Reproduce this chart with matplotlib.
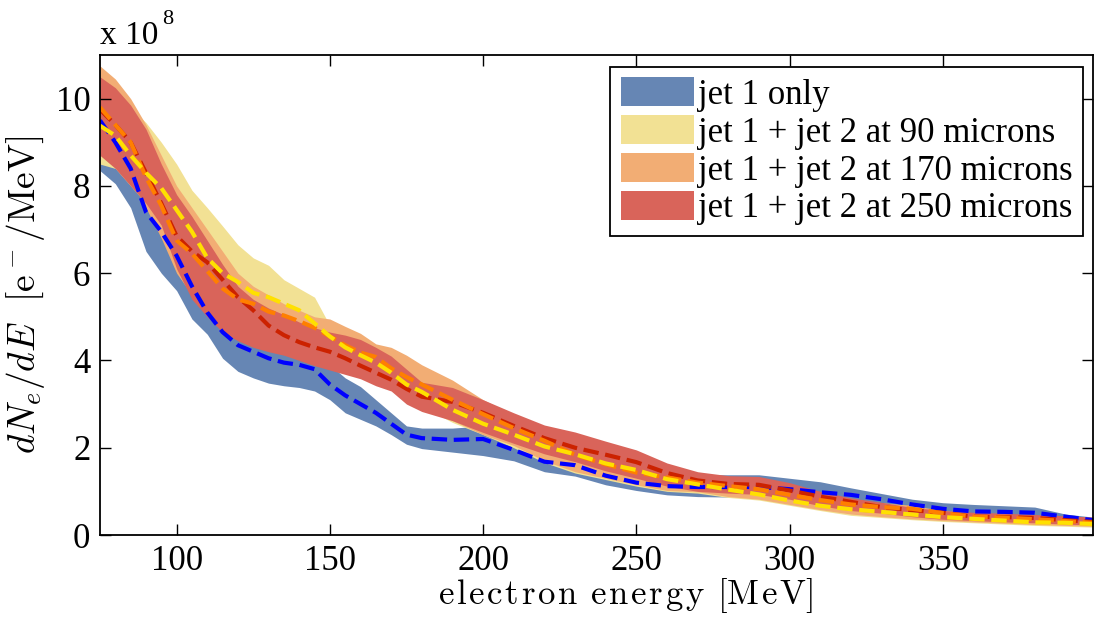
import matplotlib
matplotlib.use("Agg")
import matplotlib.pyplot as plt
from matplotlib.patches import Patch

plt.rcParams['font.family'] = ['Liberation Serif', 'DejaVu Serif']
plt.rcParams['mathtext.fontset'] = 'cm'

# energy grid [MeV]
energy = [75, 80, 85, 90, 95, 100, 105, 110, 115, 120, 125, 130, 135, 140, 145,
          150, 155, 160, 165, 170, 175, 180, 190, 200, 210, 220, 230, 240, 250,
          260, 270, 280, 290, 300, 310, 320, 330, 340, 350, 360, 370, 380, 390, 399]

# dN/dE in units of 1e8 e-/MeV
# jet 1 only
blue_mean = [9.5, 9.0, 8.4, 7.4, 6.95, 6.4, 5.7, 5.1, 4.65, 4.35, 4.2, 4.05, 3.95, 3.9, 3.8,
             3.45, 3.2, 3.0, 2.8, 2.55, 2.3, 2.22, 2.18, 2.2, 1.95, 1.68, 1.6, 1.36, 1.2,
             1.12, 1.1, 1.1, 1.1, 1.05, 0.98, 0.92, 0.82, 0.7, 0.6, 0.54, 0.53, 0.51, 0.42, 0.34]
blue_lo = [8.35, 8.05, 7.5, 6.5, 6.0, 5.6, 4.95, 4.6, 4.05, 3.75, 3.6, 3.48, 3.42, 3.38, 3.3,
           3.1, 2.8, 2.65, 2.5, 2.3, 2.08, 1.98, 1.9, 1.82, 1.7, 1.45, 1.35, 1.15, 1.02,
           0.92, 0.88, 0.87, 0.85, 0.8, 0.75, 0.7, 0.62, 0.52, 0.45, 0.4, 0.38, 0.36, 0.3, 0.25]
blue_hi = [10.3, 10.3, 9.8, 9.0, 8.3, 7.6, 6.9, 6.2, 5.6, 5.2, 4.9, 4.7, 4.5, 4.4, 4.3,
           3.9, 3.6, 3.4, 3.1, 2.8, 2.5, 2.45, 2.45, 2.5, 2.25, 2.0, 1.85, 1.65, 1.45,
           1.38, 1.38, 1.38, 1.38, 1.3, 1.22, 1.08, 0.95, 0.82, 0.74, 0.7, 0.67, 0.64, 0.48, 0.41]

# jet 1 + jet 2 at 90 microns
yel_mean = [9.38, 9.15, 8.7, 8.3, 7.95, 7.45, 6.95, 6.35, 6.0, 5.8, 5.55, 5.45, 5.3, 5.15, 4.85,
            4.55, 4.3, 4.12, 3.95, 3.72, 3.45, 3.28, 2.87, 2.55, 2.3, 2.03, 1.85, 1.64, 1.49,
            1.28, 1.16, 1.04, 0.93, 0.79, 0.67, 0.59, 0.53, 0.47, 0.41, 0.37, 0.33, 0.29, 0.28, 0.25]
yel_lo = [8.5, 8.4, 8.0, 7.6, 7.2, 6.7, 6.2, 5.6, 5.3, 5.1, 4.9, 4.75, 4.6, 4.5, 4.3,
          4.1, 3.95, 3.75, 3.55, 3.35, 3.1, 2.95, 2.58, 2.3, 2.0, 1.66, 1.42, 1.27, 1.12,
          1.0, 0.96, 0.86, 0.8, 0.68, 0.56, 0.45, 0.4, 0.35, 0.31, 0.28, 0.25, 0.22, 0.2, 0.18]
yel_hi = [10.1, 10.0, 9.8, 9.45, 9.0, 8.5, 7.9, 7.5, 7.08, 6.65, 6.35, 6.18, 5.85, 5.65, 5.45,
          4.8, 4.55, 4.35, 4.15, 3.95, 3.7, 3.55, 3.1, 2.8, 2.55, 2.3, 2.1, 1.9, 1.7,
          1.5, 1.35, 1.22, 1.1, 0.95, 0.82, 0.72, 0.65, 0.58, 0.5, 0.46, 0.42, 0.38, 0.35, 0.32]

# jet 1 + jet 2 at 170 microns
ora_mean = [9.8, 9.4, 9.0, 8.2, 7.55, 6.75, 6.45, 6.05, 5.65, 5.4, 5.3, 5.12, 5.03, 4.9, 4.75,
            4.55, 4.35, 4.18, 4.08, 3.82, 3.62, 3.45, 3.1, 2.77, 2.45, 2.16, 1.84, 1.62, 1.43,
            1.32, 1.2, 1.12, 1.05, 0.92, 0.8, 0.7, 0.64, 0.6, 0.5, 0.42, 0.4, 0.36, 0.32, 0.28]
ora_lo = [8.9, 8.6, 8.2, 7.5, 6.8, 6.0, 5.5, 5.1, 4.8, 4.65, 4.5, 4.4, 4.3, 4.2, 4.05,
          3.95, 3.8, 3.65, 3.5, 3.35, 3.1, 2.95, 2.62, 2.3, 2.05, 1.7, 1.45, 1.3, 1.15,
          1.02, 0.99, 0.88, 0.82, 0.7, 0.58, 0.48, 0.42, 0.37, 0.33, 0.3, 0.27, 0.24, 0.22, 0.2]
ora_hi = [10.75, 10.45, 10.0, 9.4, 8.7, 8.0, 7.5, 7.0, 6.5, 6.0, 5.7, 5.5, 5.3, 5.15, 5.0,
          4.95, 4.78, 4.62, 4.38, 4.3, 4.12, 3.9, 3.55, 3.1, 2.75, 2.45, 2.2, 1.95, 1.75,
          1.55, 1.38, 1.28, 1.2, 1.05, 0.92, 0.8, 0.74, 0.68, 0.56, 0.5, 0.47, 0.43, 0.38, 0.34]

# jet 1 + jet 2 at 250 microns
red_mean = [9.75, 9.4, 9.0, 8.3, 7.6, 6.85, 6.5, 6.25, 5.85, 5.45, 5.15, 4.8, 4.58, 4.42, 4.3,
            4.2, 4.05, 3.88, 3.72, 3.56, 3.35, 3.17, 3.05, 2.8, 2.5, 2.22, 2.0, 1.84, 1.67,
            1.42, 1.25, 1.17, 1.15, 1.02, 0.88, 0.76, 0.64, 0.57, 0.51, 0.42, 0.41, 0.39, 0.34, 0.3]
red_lo = [8.7, 8.4, 8.0, 7.6, 7.1, 6.1, 5.4, 5.0, 4.65, 4.45, 4.3, 4.2, 4.12, 4.0, 3.88,
          3.78, 3.68, 3.58, 3.42, 3.3, 3.0, 2.83, 2.62, 2.35, 2.1, 1.86, 1.68, 1.47, 1.3,
          1.12, 1.0, 0.96, 0.93, 0.82, 0.67, 0.56, 0.5, 0.42, 0.36, 0.33, 0.3, 0.28, 0.25, 0.23]
red_hi = [10.5, 10.25, 9.85, 9.3, 8.5, 7.8, 7.3, 6.75, 6.2, 5.7, 5.4, 5.2, 5.05, 4.88, 4.75,
          4.65, 4.58, 4.48, 4.3, 4.1, 3.8, 3.5, 3.38, 3.1, 2.8, 2.52, 2.36, 2.15, 1.95,
          1.65, 1.45, 1.36, 1.34, 1.2, 1.0, 0.85, 0.75, 0.63, 0.56, 0.52, 0.5, 0.47, 0.44, 0.41]

labels = ['jet 1 only', 'jet 1 + jet 2 at 90 microns',
          'jet 1 + jet 2 at 170 microns', 'jet 1 + jet 2 at 250 microns']
band_colors = ['#6686b4', '#f2e194', '#f2ad74', '#d9645a']
line_colors = ['#0000ff', '#ffe000', '#ff7f00', '#cc2200']

fig = plt.figure(figsize=(10.94, 6.21), dpi=100)
ax = fig.add_axes([100/1094, 86/621, 993/1094, 480/621])

ax.fill_between(energy, blue_lo, blue_hi, color=band_colors[0], lw=0)
ax.fill_between(energy, yel_lo, yel_hi, color=band_colors[1], lw=0)
ax.fill_between(energy, ora_lo, ora_hi, color=band_colors[2], lw=0)
ax.fill_between(energy, red_lo, red_hi, color=band_colors[3], lw=0)

ax.plot(energy, blue_mean, '--', color=line_colors[0], lw=3)
ax.plot(energy, red_mean, '--', color=line_colors[3], lw=3)
ax.plot(energy, ora_mean, '--', color=line_colors[2], lw=3)
ax.plot(energy, yel_mean, '--', color=line_colors[1], lw=3)

ax.set_xlim(75, 399)
ax.set_ylim(0, 11)
ax.set_xticks([100, 150, 200, 250, 300, 350])
ax.set_yticks([0, 2, 4, 6, 8, 10])
ax.tick_params(direction='in', length=8, width=1, labelsize=25,
               top=True, right=True, pad=7)
for s in ax.spines.values():
    s.set_linewidth(1.3)

xl = r'$\mathrm{e\hspace{0.09}l\hspace{0.09}e\hspace{0.09}c\hspace{0.09}t\hspace{0.09}r\hspace{0.09}o\hspace{0.09}n'
xl += r'\hspace{0.45}e\hspace{0.09}n\hspace{0.09}e\hspace{0.09}r\hspace{0.09}g\hspace{0.09}y'
xl += r'\hspace{0.45}[M\hspace{0.09}e\hspace{0.09}V]}$'
ax.set_xlabel(xl, fontsize=25, labelpad=0)
ax.xaxis.set_label_coords(0.529, -0.085)
ax.set_ylabel(r'$dN_e/dE\ \ \mathrm{[e^-/MeV]}$', fontsize=27, labelpad=6)

fig.text(100/1094, 1 - 36/621, 'x 10', fontsize=24, va='center', ha='left')
fig.text(162/1094, 1 - 20/621, '8', fontsize=16, va='center', ha='left')

handles = [Patch(facecolor=c, edgecolor='none') for c in band_colors]
leg = ax.legend(handles, labels, loc='upper right', fontsize=25,
                bbox_to_anchor=(1083/1094, 1 - 67/621), bbox_transform=fig.transFigure,
                borderaxespad=0, frameon=True, fancybox=False, framealpha=1,
                handlelength=2.1, handleheight=0.9, handletextpad=0.12,
                labelspacing=0.1, borderpad=0.3)
leg.get_frame().set_edgecolor('black')
leg.get_frame().set_linewidth(1.3)

fig.savefig('out.png', dpi=100)
